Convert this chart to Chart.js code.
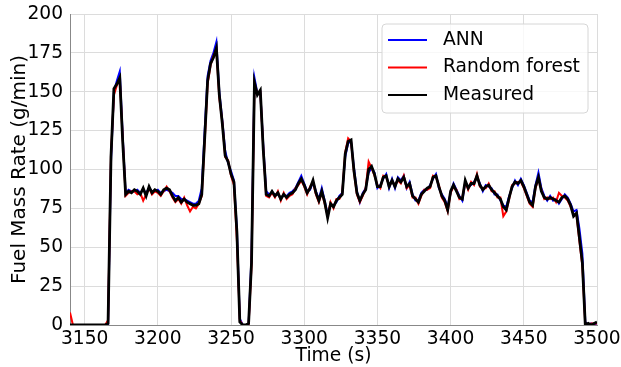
<!DOCTYPE html>
<html>
<head>
<meta charset="utf-8">
<script src="https://cdn.jsdelivr.net/npm/chart.js@4.4.1/dist/chart.umd.min.js"></script>
<style>
html,body{margin:0;padding:0;background:#fff;}
#wrap{width:621px;height:367px;position:relative;}
</style>
</head>
<body>
<div id="wrap"><canvas id="c" width="621" height="367"></canvas></div>
<script>
// Time stamps (s)
const timeSeconds = [
3140,3142,3144,3146,3148,3150,3152,3154,3156,3158,3160,3162,3164,3166,
3168,3170,3172,3174,3176,3178,
3180,3182,3184,3186,3188,3190,3192,3194,3196,3198,
3200,3202,3204,3206,3208,3210,3212,3214,3216,3218,
3220,3222,3224,3226,3228,3230,3232,3234,3236,3238,
3240,3242,3244,3246,3248,3250,3252,3254,3256,3258,
3260,3262,3264,3266,3268,3270,3272,3274,3276,3278,
3280,3282,3284,3286,3288,3290,3292,3294,3296,3298,
3300,3302,3304,3306,3308,3310,3312,3314,3316,3318,
3320,3322,3324,3326,3328,3330,3332,3334,3336,3338,
3340,3342,3344,3346,3348,3350,3352,3354,3356,3358,
3360,3362,3364,3366,3368,3370,3372,3374,3376,3378,
3380,3382,3384,3386,3388,3390,3392,3394,3396,3398,
3400,3402,3404,3406,3408,3410,3412,3414,3416,3418,
3420,3422,3424,3426,3428,3430,3432,3434,3436,3438,
3440,3442,3444,3446,3448,3450,3452,3454,3456,3458,
3460,3462,3464,3466,3468,3470,3472,3474,3476,3478,
3480,3482,3484,3486,3488,3490,3492,3494,3496,3498,
3500];

// Measured fuel mass rate (g/min)
const measured = [
0,0,0,0,0,0,0,0,0,0,0,0,0,1,
108,152,155,159,118,84,
86,85,87,86,84,88,83,89,85,87,
86,84,87,88,87,83,80,82,79,81,
79,78,77,77,78,84,120,157,168,172,
178,148,130,109,105,97,92,60,2,0,
0,1,40,156,148,151,113,84,83,86,
83,85,81,84,82,84,85,87,91,94,
90,85,88,93,85,80,86,79,69,78,
76,80,82,84,110,118,119,99,85,80,
84,87,100,102,97,89,89,95,96,89,
93,89,94,92,95,89,91,83,81,79,
84,86,88,89,95,96,89,83,80,74,
86,90,86,82,81,93,88,91,91,96,
90,87,89,90,87,85,83,81,76,74,
82,89,92,91,93,89,84,79,77,89,
95,86,82,81,82,81,80,79,82,83,
81,77,70,72,56,40,0,1,0,1,
2];

// ANN prediction (g/min)
const ann = [
0,0,0,0,0,0,0,0,0,0,0,0,0,0,
105,150,157,163,122,85,
87,86,86,87,85,87,85,88,86,86,
87,85,86,87,86,85,83,83,81,81,
80,79,78,78,80,88,125,160,170,175,
182,150,132,112,104,99,93,62,4,0,
0,0,45,159,149,150,116,86,84,85,
84,84,82,83,83,85,86,88,92,96,
91,86,87,92,86,81,88,80,71,77,
77,79,83,85,108,117,118,101,86,79,
85,88,98,101,98,88,90,94,97,88,
94,88,95,93,96,88,92,84,80,80,
85,87,87,90,94,97,88,84,81,76,
85,91,87,83,80,92,89,90,92,95,
91,86,90,89,88,84,84,80,77,76,
83,88,93,90,94,90,85,80,79,90,
98,88,83,80,83,80,81,78,81,84,
82,78,73,74,62,46,2,0,1,0,
1];

// Random forest prediction (g/min)
const randomForest = [
8,0,0,0,0,0,0,0,0,0,0,0,0,3,
110,148,154,158,120,83,
85,86,86,84,85,80,84,88,84,86,
85,83,86,89,86,82,79,81,78,82,
77,73,76,75,78,83,118,155,167,173,
177,146,131,108,106,96,90,55,3,0,
0,0,38,155,149,150,114,83,82,85,
82,86,80,85,81,83,84,88,90,93,
89,84,89,92,84,79,85,78,70,79,
75,81,81,85,111,120,118,98,84,79,
83,88,105,101,96,90,88,96,95,90,
92,90,93,91,96,88,90,82,82,78,
83,87,87,88,96,95,90,82,79,73,
85,89,87,81,82,92,87,92,90,97,
89,88,88,91,86,86,82,82,70,73,
81,90,91,92,92,88,83,78,76,88,
94,87,81,82,81,82,79,85,83,82,
80,76,71,71,54,38,0,0,1,1,
1];

const xTickValues = [3150,3200,3250,3300,3350,3400,3450,3500];
const yTickValues = [0,25,50,75,100,125,150,175,200];
const seriesNames = ['ANN','Random forest','Measured'];
const seriesColors = ['#0000ff','#ff0000','#000000'];

const FONT = "'DejaVu Sans', sans-serif";
const FS = 18.67;

function pts(vals){ return timeSeconds.map((t,i)=>({x:t,y:vals[i]})); }

const legendPlugin = {
  id:'boxLegend',
  afterDraw(chart){
    const ctx = chart.ctx;
    const w = 206, h = 89;
    const x0 = 382, y0 = 24;
    ctx.save();
    ctx.beginPath();
    const r = 4;
    ctx.moveTo(x0+r,y0);
    ctx.lineTo(x0+w-r,y0); ctx.quadraticCurveTo(x0+w,y0,x0+w,y0+r);
    ctx.lineTo(x0+w,y0+h-r); ctx.quadraticCurveTo(x0+w,y0+h,x0+w-r,y0+h);
    ctx.lineTo(x0+r,y0+h); ctx.quadraticCurveTo(x0,y0+h,x0,y0+h-r);
    ctx.lineTo(x0,y0+r); ctx.quadraticCurveTo(x0,y0,x0+r,y0);
    ctx.closePath();
    ctx.fillStyle = 'rgba(255,255,255,0.8)';
    ctx.fill();
    ctx.strokeStyle = '#d6d6d6';
    ctx.lineWidth = 1;
    ctx.stroke();
    ctx.font = FS + 'px ' + FONT;
    ctx.textBaseline = 'middle';
    ctx.textAlign = 'left';
    for (let i=0;i<seriesNames.length;i++){
      const yy = y0 + 16 + i*27.5;
      ctx.beginPath();
      ctx.strokeStyle = seriesColors[i];
      ctx.lineWidth = 2;
      ctx.moveTo(x0+6, yy); ctx.lineTo(x0+45, yy);
      ctx.stroke();
      ctx.fillStyle = '#000';
      ctx.fillText(seriesNames[i], x0+61, yy);
    }
    ctx.restore();
  }
};

new Chart(document.getElementById('c'), {
  type:'line',
  data:{
    datasets:[
      {label:seriesNames[0], data:pts(ann), borderColor:seriesColors[0], borderWidth:2, pointRadius:0, tension:0, order:2},
      {label:seriesNames[1], data:pts(randomForest), borderColor:seriesColors[1], borderWidth:2, pointRadius:0, tension:0, order:1},
      {label:seriesNames[2], data:pts(measured), borderColor:seriesColors[2], borderWidth:2.8, pointRadius:0, tension:0, order:0}
    ]
  },
  options:{
    responsive:false,
    animation:false,
    events:[],
    layout:{padding:{left:0,right:24,top:14,bottom:0}},
    plugins:{legend:{display:false}, tooltip:{enabled:false}},
    scales:{
      x:{
        type:'linear', min:3140, max:3500,
        afterBuildTicks(axis){ axis.ticks = xTickValues.map(v=>({value:v})); },
        afterFit(axis){ axis.height = 42; axis.paddingLeft = 0; axis.paddingRight = 0; },
        grid:{color:'#dcdcdc', lineWidth:1, drawTicks:false},
        border:{color:'#888', width:1},
        ticks:{font:{family:FONT,size:FS}, color:'#000', padding:3, maxRotation:0, autoSkip:false,
               callback:(v)=>String(v)},
        title:{display:true, text:'Time (s)', font:{family:FONT,size:FS}, color:'#000', padding:{top:0,bottom:0}}
      },
      y:{
        min:0, max:200,
        afterBuildTicks(axis){ axis.ticks = yTickValues.map(v=>({value:v})); },
        afterFit(axis){ axis.width = 70; axis.paddingTop = 0; axis.paddingBottom = 0; },
        grid:{color:'#dcdcdc', lineWidth:1, drawTicks:false},
        border:{color:'#888', width:1},
        ticks:{font:{family:FONT,size:FS}, color:'#000', padding:7, callback:(v)=>String(v)},
        title:{display:true, text:'Fuel Mass Rate (g/min)', font:{family:FONT,size:20}, color:'#000', padding:{top:8,bottom:0}}
      }
    }
  },
  plugins:[legendPlugin]
});
</script>
</body>
</html>
